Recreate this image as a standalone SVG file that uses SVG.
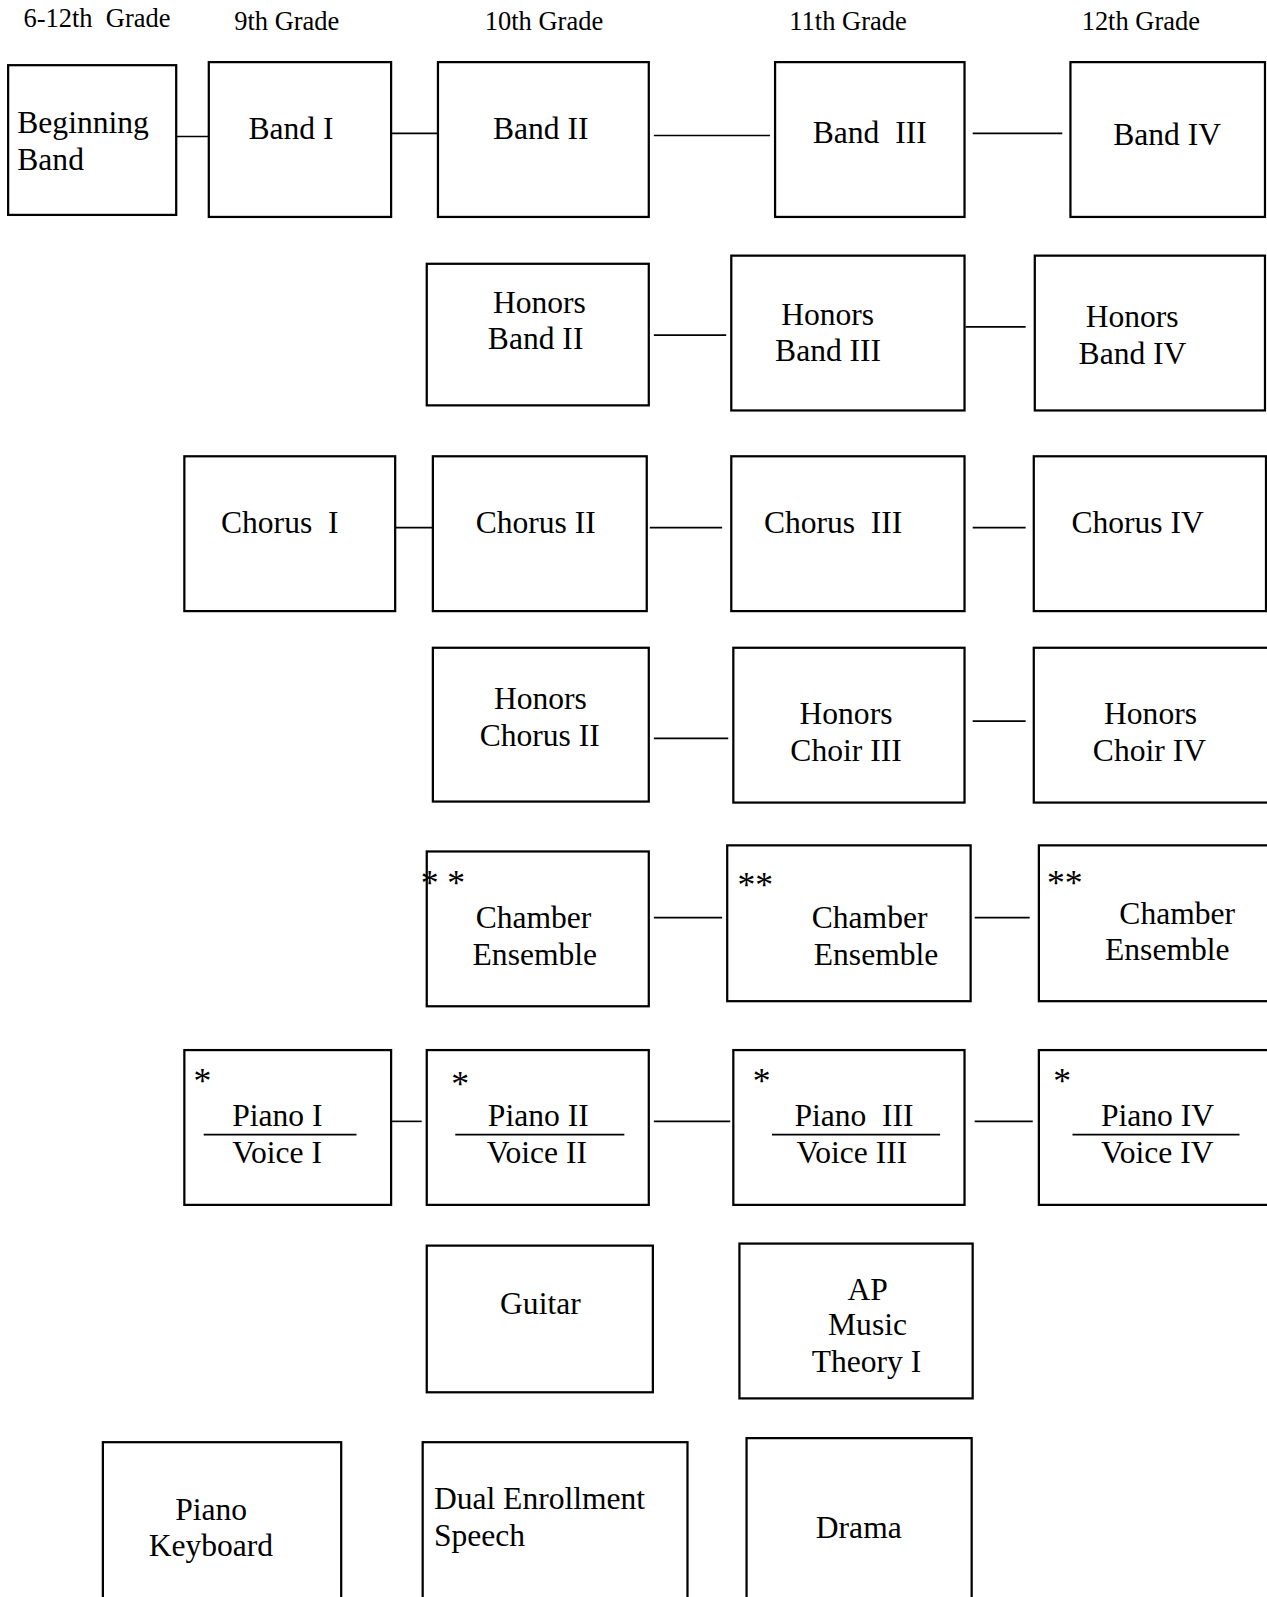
<svg xmlns="http://www.w3.org/2000/svg" width="1267" height="1597" viewBox="0 0 1267 1597">
<style>
rect{fill:#fff;stroke:#000;stroke-width:2.2}
text{font-family:"Liberation Serif","Times New Roman",serif;font-size:31px;fill:#000}
text.h{font-size:26px}
text.a{font-size:35px}
line{stroke:#000;stroke-width:1.6}
</style>
<rect x="0" y="0" width="1267" height="1597" style="stroke:none"/>
<g transform="scale(1.0185)">
<g id="headers">
<text class="h" x="23" y="27" xml:space="preserve">6-12th  Grade</text>
<text class="h" x="230" y="29">9th Grade</text>
<text class="h" x="476" y="29">10th Grade</text>
<text class="h" x="775" y="29">11th Grade</text>
<text class="h" x="1062" y="29">12th Grade</text>
</g>
<g id="connectors">
<line x1="173" y1="134" x2="205" y2="134"/>
<line x1="384" y1="131" x2="430" y2="131"/>
<line x1="642" y1="133" x2="756" y2="133"/>
<line x1="955" y1="131" x2="1043" y2="131"/>
<line x1="642" y1="329" x2="713" y2="329"/>
<line x1="948" y1="321" x2="1007" y2="321"/>
<line x1="383" y1="518" x2="425" y2="518"/>
<line x1="638" y1="518" x2="709" y2="518"/>
<line x1="955" y1="518" x2="1007" y2="518"/>
<line x1="642" y1="725" x2="715" y2="725"/>
<line x1="955" y1="708" x2="1007" y2="708"/>
<line x1="642" y1="901" x2="709" y2="901"/>
<line x1="957" y1="901" x2="1011" y2="901"/>
<line x1="384" y1="1101" x2="414" y2="1101"/>
<line x1="642" y1="1101" x2="717" y2="1101"/>
<line x1="957" y1="1101" x2="1014" y2="1101"/>
</g>
<g id="beginning-band"><rect x="8" y="64" width="165" height="147"/><text x="17" y="131">Beginning</text><text x="17" y="167">Band</text></g>
<g id="band-1"><rect x="205" y="61" width="179" height="152"/><text x="244" y="136">Band I</text></g>
<g id="band-2"><rect x="430" y="61" width="207" height="152"/><text x="484" y="136">Band II</text></g>
<g id="band-3"><rect x="761" y="61" width="186" height="152"/><text x="798" y="140" xml:space="preserve">Band  III</text></g>
<g id="band-4"><rect x="1051" y="61" width="191" height="152"/><text x="1093" y="142">Band IV</text></g>
<g id="honors-band-2"><rect x="419" y="259" width="218" height="139"/><text x="484" y="307">Honors</text><text x="479" y="343">Band II</text></g>
<g id="honors-band-3"><rect x="718" y="251" width="229" height="152"/><text x="767" y="319">Honors</text><text x="761" y="354">Band III</text></g>
<g id="honors-band-4"><rect x="1016" y="251" width="226" height="152"/><text x="1066" y="321">Honors</text><text x="1059" y="357">Band IV</text></g>
<g id="chorus-1"><rect x="181" y="448" width="207" height="152"/><text x="217" y="523" xml:space="preserve">Chorus  I</text></g>
<g id="chorus-2"><rect x="425" y="448" width="210" height="152"/><text x="467" y="523">Chorus II</text></g>
<g id="chorus-3"><rect x="718" y="448" width="229" height="152"/><text x="750" y="523" xml:space="preserve">Chorus  III</text></g>
<g id="chorus-4"><rect x="1015" y="448" width="228" height="152"/><text x="1052" y="523">Chorus IV</text></g>
<g id="honors-chorus-2"><rect x="425" y="636" width="212" height="151"/><text x="485" y="696">Honors</text><text x="471" y="732">Chorus II</text></g>
<g id="honors-choir-3"><rect x="720" y="636" width="227" height="152"/><text x="785" y="711">Honors</text><text x="776" y="747">Choir III</text></g>
<g id="honors-choir-4"><rect x="1015" y="636" width="240" height="152"/><text x="1084" y="711">Honors</text><text x="1073" y="747">Choir IV</text></g>
<g id="chamber-2"><rect x="419" y="836" width="218" height="152"/><text class="a" x="413" y="879" xml:space="preserve">* *</text><text x="467" y="911">Chamber</text><text x="464" y="947">Ensemble</text></g>
<g id="chamber-3"><rect x="714" y="830" width="239" height="153"/><text class="a" x="724" y="881">**</text><text x="797" y="911">Chamber</text><text x="799" y="947">Ensemble</text></g>
<g id="chamber-4"><rect x="1020" y="830" width="240" height="153"/><text class="a" x="1028" y="879">**</text><text x="1099" y="907">Chamber</text><text x="1085" y="943">Ensemble</text></g>
<g id="piano-voice-1"><rect x="181" y="1031" width="203" height="152"/><text class="a" x="190" y="1073">*</text><text x="228" y="1106">Piano I</text><line x1="200" y1="1114" x2="350" y2="1114"/><text x="228" y="1142">Voice I</text></g>
<g id="piano-voice-2"><rect x="419" y="1031" width="218" height="152"/><text class="a" x="443" y="1076">*</text><text x="479" y="1106">Piano II</text><line x1="447" y1="1114" x2="613" y2="1114"/><text x="478" y="1142">Voice II</text></g>
<g id="piano-voice-3"><rect x="720" y="1031" width="227" height="152"/><text class="a" x="739" y="1073">*</text><text x="780" y="1106" xml:space="preserve">Piano  III</text><line x1="758" y1="1114" x2="923" y2="1114"/><text x="782" y="1142">Voice III</text></g>
<g id="piano-voice-4"><rect x="1020" y="1031" width="240" height="152"/><text class="a" x="1034" y="1073">*</text><text x="1081" y="1106">Piano IV</text><line x1="1053" y1="1114" x2="1217" y2="1114"/><text x="1081" y="1142">Voice IV</text></g>
<g id="guitar"><rect x="419" y="1223" width="222" height="144"/><text x="491" y="1290">Guitar</text></g>
<g id="ap-music-theory"><rect x="726" y="1221" width="229" height="152"/><text x="832" y="1276">AP</text><text x="813" y="1311">Music</text><text x="797" y="1347">Theory I</text></g>
<g id="piano-keyboard"><rect x="101" y="1416" width="234" height="200"/><text x="172" y="1492">Piano</text><text x="146" y="1528">Keyboard</text></g>
<g id="dual-enrollment"><rect x="415" y="1416" width="260" height="200"/><text x="426" y="1482">Dual Enrollment</text><text x="426" y="1518">Speech</text></g>
<g id="drama"><rect x="733" y="1412" width="221" height="200"/><text x="801" y="1510">Drama</text></g>
</g>
</svg>
